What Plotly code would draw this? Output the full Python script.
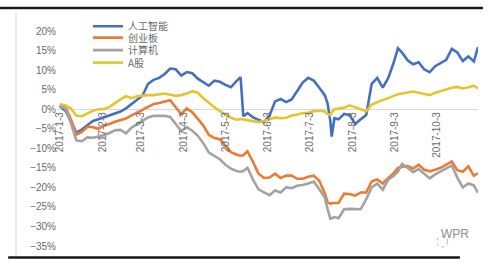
import plotly.graph_objects as go

dates = ["2017-01-03","2017-01-07","2017-01-11","2017-01-15","2017-01-19","2017-01-23","2017-01-27","2017-01-31","2017-02-04","2017-02-08",
         "2017-02-12","2017-02-16","2017-02-20","2017-02-24","2017-02-28","2017-03-04","2017-03-08","2017-03-12","2017-03-16","2017-03-20",
         "2017-03-24","2017-03-28","2017-04-01","2017-04-05","2017-04-09","2017-04-13","2017-04-17","2017-04-21","2017-04-25","2017-04-29",
         "2017-05-03","2017-05-07","2017-05-11","2017-05-14","2017-05-16","2017-05-19","2017-05-23","2017-05-27","2017-05-31","2017-06-04",
         "2017-06-08","2017-06-12","2017-06-16","2017-06-20","2017-06-24","2017-06-28","2017-07-02","2017-07-06","2017-07-10","2017-07-14",
         "2017-07-16","2017-07-18","2017-07-19","2017-07-21","2017-07-24","2017-07-28","2017-08-01","2017-08-05","2017-08-09","2017-08-13",
         "2017-08-17","2017-08-21","2017-08-25","2017-08-29","2017-09-02","2017-09-05","2017-09-08","2017-09-12","2017-09-16","2017-09-20",
         "2017-09-24","2017-09-28","2017-10-02","2017-10-06","2017-10-10","2017-10-14","2017-10-18","2017-10-22","2017-10-26","2017-10-30",
         "2017-11-02"]

ai = [0.8, -0.4, -3.0, -6.0, -5.2, -4.2, -3.0, -2.6, -2.1, -1.6,
      -0.9, -0.6, 0.2, 1.2, 2.4, 3.5, 6.5, 7.5, 8.0, 9.0,
      10.4, 10.2, 8.6, 9.5, 9.2, 7.8, 6.8, 6.0, 7.3, 7.0,
      6.2, 5.6, 7.2, 8.2, -1.8, -1.0, -2.1, -2.7, -3.3, -1.6,
      2.0, 2.6, 1.8, 2.5, 4.6, 6.8, 8.0, 7.3, 5.5, 3.6,
      1.5, -3.0, -7.0, -2.3, -2.6, -1.2, -1.5, -3.8, -2.6, -1.5,
      6.5, 8.0, 5.5, 8.0, 12.0, 15.6, 14.5, 12.5, 11.5, 12.0,
      10.2, 9.5, 11.0, 11.7, 12.6, 15.4, 14.5, 12.3, 13.5, 12.2,
      15.9]

cyb = [1.2, 0.6, -2.5, -6.5, -5.8, -4.5, -4.6, -5.0, -4.2, -3.8,
       -3.2, -2.7, -2.4, -1.6, -1.0, -0.2, 0.6, 1.3, 1.6, 2.0,
       2.3, 0.5, -1.3, 0.2, -0.8, -2.5, -4.2, -6.6, -7.4, -7.7,
       -9.5, -11.0, -11.6, -11.9, -11.8, -10.8, -13.5, -16.5, -17.6, -17.5,
       -16.5, -17.6, -17.0, -17.0, -17.8, -17.8, -17.3, -17.0, -18.3, -21.5,
       -23.8, -24.2, -24.0, -24.0, -24.0, -21.6, -21.7, -22.1, -21.3, -21.3,
       -18.5, -18.0, -19.0, -17.6, -16.3, -15.0, -14.7, -14.5, -15.2, -14.2,
       -15.5, -15.9, -15.5, -15.0, -14.2, -13.4, -15.6, -16.0, -14.6, -17.0,
       -16.4]

jsj = [0.8, 0.2, -3.5, -8.0, -8.2, -7.2, -7.3, -7.0, -6.7, -6.1,
       -5.4, -5.3, -6.2, -4.7, -3.8, -2.9, -2.1, -1.7, -1.7, -1.7,
       -2.0, -3.8, -5.6, -4.6, -5.5, -6.8, -8.7, -11.1, -11.9, -12.8,
       -14.2, -15.2, -15.8, -16.0, -15.8, -15.0, -18.0, -20.5, -21.3, -22.0,
       -20.8, -21.3, -20.0, -20.2, -19.6, -19.4, -19.0, -18.5, -20.5, -22.6,
       -25.5, -28.0, -27.9, -27.6, -27.9, -25.6, -25.5, -25.6, -25.6, -23.0,
       -20.0, -19.0, -20.6, -18.0, -17.0, -16.0, -14.0, -15.0, -16.1, -15.3,
       -16.5, -17.7, -16.7, -16.0, -15.3, -14.4, -17.5, -20.0, -19.0, -19.5,
       -21.4]

ag = [1.2, 1.0, 0.2, -1.6, -1.8, -1.0, -0.4, 0.0, 0.0, 0.6,
      1.6, 2.5, 3.3, 2.8, 3.3, 3.5, 3.6, 3.6, 3.8, 4.0,
      3.7, 3.4, 3.6, 4.0, 4.6, 4.2, 2.8, 1.6, 0.5, -0.5,
      -1.3, -2.2, -2.7, -2.5, -2.6, -2.8, -3.0, -3.3, -3.0, -2.6,
      -2.1, -2.3, -2.2, -1.6, -1.4, -1.0, -0.9, -0.5, -0.4, -0.6,
      -1.2, -1.5, -0.8, 0.0, 0.2, 0.4, 1.0, 0.6, 0.0, -0.5,
      1.2, 1.8, 2.4, 2.9, 3.4, 3.8, 4.0, 4.3, 4.5, 4.2,
      3.9, 3.6, 4.2, 4.7, 5.2, 5.5, 5.7, 5.3, 5.6, 6.0,
      5.3]

series_names = ["人工智能", "创业板", "计算机", "A股"]
series_values = [ai, cyb, jsj, ag]
series_colors = ["#4470C0", "#EA7B34", "#A3A3A3", "#E6C52C"]
legend_ids = ["legend", "legend2", "legend3", "legend4"]

tick_dates = ["2017-01-03","2017-02-03","2017-03-03","2017-04-03","2017-05-03",
              "2017-06-03","2017-07-03","2017-08-03","2017-09-03","2017-10-03"]
tick_labels = ["2017-1-3","2017-2-3","2017-3-3","2017-4-3","2017-5-3",
               "2017-6-3","2017-7-3","2017-8-3","2017-9-3","2017-10-3"]

fig = go.Figure()
for name, vals, col, lg in zip(series_names, series_values, series_colors, legend_ids):
    fig.add_trace(go.Scatter(x=dates, y=vals, mode="lines", name=name,
                             line=dict(color=col, width=2.6), legend=lg))

gray = "#6A6A6A"
cjk = "Noto Sans CJK SC"
legend_y = [1.022, 0.969, 0.911, 0.853]
legend_common = dict(x=0.0736, xanchor="left", yanchor="middle",
                     bgcolor="rgba(0,0,0,0)", borderwidth=0,
                     font=dict(family=cjk, size=10, color=gray))

fig.update_layout(
    width=500, height=264, autosize=False,
    margin=dict(l=57, r=22, t=25, b=15),
    paper_bgcolor="white", plot_bgcolor="white",
    xaxis=dict(type="date", range=["2017-01-01", "2017-11-02"],
               anchor="free", position=35/55,
               tickvals=tick_dates, ticktext=tick_labels, tickangle=-90,
               showgrid=False, showline=False, zeroline=False, ticks="",
               tickfont=dict(family="Liberation Sans", size=10, color=gray)),
    yaxis=dict(range=[-35, 20], dtick=5, ticksuffix="%",
               showgrid=False, showline=False, zeroline=True,
               zerolinecolor="#D9D9D9", zerolinewidth=1, ticks="",
               tickfont=dict(family="Liberation Sans", size=10, color=gray)),
    legend=dict(y=legend_y[0], **legend_common),
    legend2=dict(y=legend_y[1], **legend_common),
    legend3=dict(y=legend_y[2], **legend_common),
    legend4=dict(y=legend_y[3], **legend_common),
    showlegend=True,
)

# frame lines of the screenshot
fig.add_shape(type="line", xref="paper", yref="paper", x0=-0.14, x1=1.012, y0=1.107, y1=1.107,
              line=dict(color="#1A1A1A", width=2.5))
fig.add_shape(type="line", xref="paper", yref="paper", x0=-0.116, x1=0.957, y0=-0.054, y1=-0.054,
              line=dict(color="#1A1A1A", width=2.5))
fig.add_shape(type="line", xref="paper", yref="paper", x0=-0.0974, x1=-0.0974, y0=1.089, y1=-0.045,
              line=dict(color="#D4D4D4", width=1))

# watermark
fig.add_shape(type="circle", xref="paper", yref="paper", x0=0.902, x1=0.928, y0=-0.005, y1=0.045,
              line=dict(color="#B5B5B5", width=1, dash="dot"))
fig.add_annotation(text="WPR", xref="paper", yref="paper", x=0.983, y=0.013,
                   showarrow=False, font=dict(family="Liberation Sans", size=12, color="#8E8E8E"))

fig.write_html("out.html")
